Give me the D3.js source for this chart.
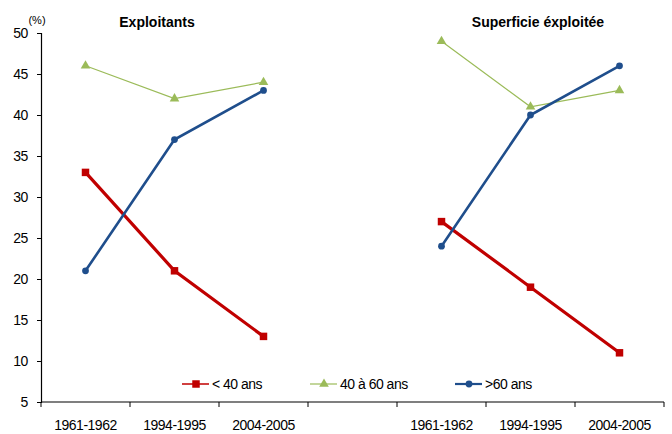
<!DOCTYPE html>
<html>
<head>
<meta charset="utf-8">
<script src="https://cdn.jsdelivr.net/npm/d3@7"></script>
<style>
body { margin: 0; background: #fff; }
svg text { font-family: "Liberation Sans", Arial, sans-serif; }
</style>
</head>
<body>
<svg id="svg_chart" width="672" height="434"></svg>
<script>
// categories: 7 slots, the 4th is an empty spacer between the two panels
var categories = ["a1961", "a1994", "a2004", "gap", "b1961", "b1994", "b2004"];
var cat_labels = ["1961-1962", "1994-1995", "2004-2005", "", "1961-1962", "1994-1995", "2004-2005"];
var y_ticks = [5, 10, 15, 20, 25, 30, 35, 40, 45, 50];

// Exploitants
var expl_moins40 = [33, 21, 13];
var expl_40a60 = [46, 42, 44];
var expl_plus60 = [21, 37, 43];
// Superficie exploitée
var sup_moins40 = [27, 19, 11];
var sup_40a60 = [49, 41, 43];
var sup_plus60 = [24, 40, 46];

var svg = d3.select("svg#svg_chart");
var margin = {top: 33, right: 8, bottom: 32, left: 41};
var width = +svg.attr("width") - margin.left - margin.right;
var height = +svg.attr("height") - margin.top - margin.bottom;

var x = d3.scaleBand().domain(categories).range([0, width]);
var y = d3.scaleLinear().domain([5, 50]).range([height, 0]);

var g = svg.append("g")
	.attr("transform", "translate(" + margin.left + "," + margin.top + ")");

// y axis
var yAxis = g.append("g")
	.call(d3.axisLeft(y).tickValues(y_ticks).tickSize(4).tickPadding(9));
yAxis.select(".domain").attr("stroke", "#000").attr("stroke-width", 1.2);
yAxis.selectAll("text").attr("font-size", "14px").attr("fill", "#000").attr("letter-spacing", "-0.4px");

// x axis with ticks at band boundaries
var xg = g.append("g").attr("transform", "translate(0," + height + ")");
xg.append("line").attr("x1", 0).attr("x2", width).attr("stroke", "#000").attr("stroke-width", 1.2);
var bounds = categories.map(function(c) { return x(c); }).concat([width]);
xg.selectAll(".tk").data(bounds).enter().append("line")
	.attr("x1", function(d) { return d; }).attr("x2", function(d) { return d; })
	.attr("y1", 0).attr("y2", 5).attr("stroke", "#000");
xg.selectAll(".lb").data(categories).enter().append("text")
	.attr("x", function(d) { return x(d) + x.bandwidth() / 2; })
	.attr("y", 28)
	.attr("text-anchor", "middle")
	.attr("font-size", "14px")
	.attr("letter-spacing", "-0.5px")
	.text(function(d, i) { return cat_labels[i]; });

// series
var series = [
	{vals: expl_40a60, cats: categories.slice(0, 3), color: "#9BBB59", w: 1.2, mark: "tri"},
	{vals: sup_40a60, cats: categories.slice(4), color: "#9BBB59", w: 1.2, mark: "tri"},
	{vals: expl_moins40, cats: categories.slice(0, 3), color: "#C00000", w: 3.2, mark: "sq"},
	{vals: sup_moins40, cats: categories.slice(4), color: "#C00000", w: 3.2, mark: "sq"},
	{vals: expl_plus60, cats: categories.slice(0, 3), color: "#1F4E8C", w: 2.6, mark: "circ"},
	{vals: sup_plus60, cats: categories.slice(4), color: "#1F4E8C", w: 2.6, mark: "circ"}
];

var line = d3.line()
	.x(function(d) { return x(d.c) + x.bandwidth() / 2; })
	.y(function(d) { return y(d.v); });

var symbols = {
	tri: d3.symbol().type(d3.symbolTriangle).size(40),
	sq: d3.symbol().type(d3.symbolSquare).size(56),
	circ: d3.symbol().type(d3.symbolCircle).size(36)
};

series.forEach(function(s) {
	var pts = s.vals.map(function(v, i) { return {c: s.cats[i], v: v}; });
	g.append("path").datum(pts)
		.attr("fill", "none").attr("stroke", s.color).attr("stroke-width", s.w)
		.attr("d", line);
	g.selectAll(null).data(pts).enter().append("path")
		.attr("transform", function(d) { return "translate(" + (x(d.c) + x.bandwidth() / 2) + "," + y(d.v) + ")"; })
		.attr("d", symbols[s.mark])
		.attr("fill", s.color);
});

// titles
svg.append("text").attr("x", 157).attr("y", 27).attr("text-anchor", "middle")
	.attr("font-size", "14px").attr("font-weight", "bold").text("Exploitants");
svg.append("text").attr("x", 538).attr("y", 27).attr("text-anchor", "middle")
	.attr("font-size", "14px").attr("font-weight", "bold").text("Superficie éxploitée");
svg.append("text").attr("x", 37).attr("y", 24).attr("text-anchor", "middle")
	.attr("font-size", "11px").text("(%)");

// legend
var legend = [
	{label: "< 40 ans", color: "#C00000", w: 1.5, mark: "sq", x: 182},
	{label: "40 à 60 ans", color: "#9BBB59", w: 1.2, mark: "tri", x: 310},
	{label: ">60 ans", color: "#1F4E8C", w: 2.2, mark: "circ", x: 455}
];
var lg = svg.append("g").attr("transform", "translate(0,384)");
legend.forEach(function(d) {
	lg.append("line").attr("x1", d.x).attr("x2", d.x + 27).attr("stroke", d.color).attr("stroke-width", d.w);
	lg.append("path").attr("transform", "translate(" + (d.x + 14) + ",0)")
		.attr("d", symbols[d.mark]).attr("fill", d.color);
	lg.append("text").attr("x", d.x + 30).attr("y", 5).attr("font-size", "14px")
		.attr("letter-spacing", "-0.5px").text(d.label);
});
</script>
</body>
</html>
